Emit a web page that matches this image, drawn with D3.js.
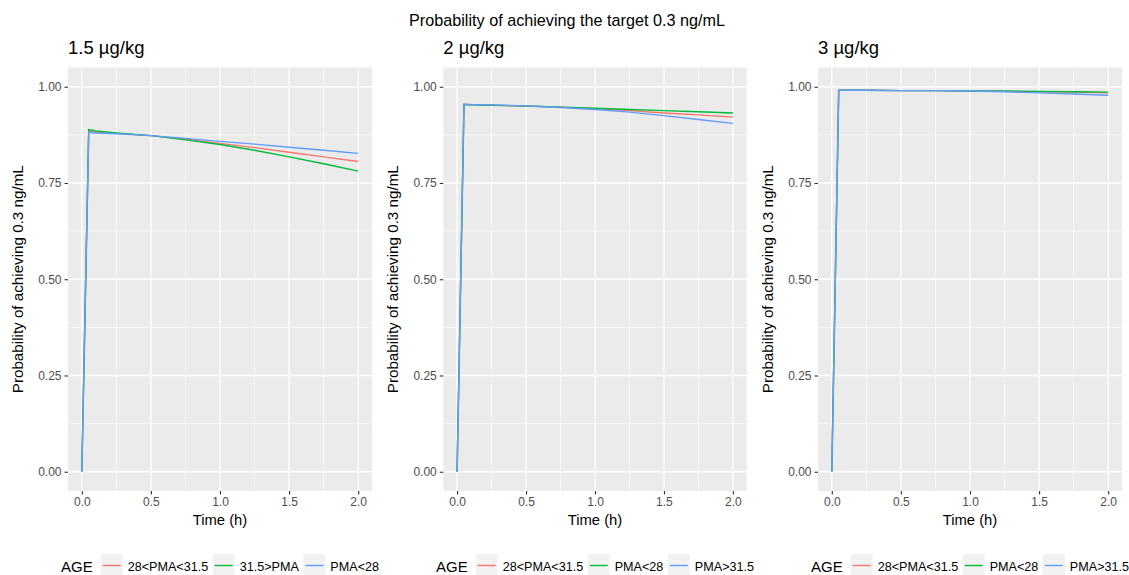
<!DOCTYPE html>
<html>
<head>
<meta charset="utf-8">
<script src="https://cdn.jsdelivr.net/npm/d3@7"></script>
<style>
  html, body { margin: 0; padding: 0; background: #ffffff; }
  svg { display: block; }
  text { font-family: "Liberation Sans", Arial, Helvetica, sans-serif; }
</style>
</head>
<body>
<svg id="chart" width="1129" height="575"></svg>
<script>
// ---------------- DATA ----------------
const mainTitle = "Probability of achieving the target 0.3 ng/mL";
const panelTitles = ["1.5 µg/kg", "2 µg/kg", "3 µg/kg"];
const yAxisTitle = "Probability of achieving 0.3 ng/mL";
const xAxisTitle = "Time (h)";
const legendTitle = "AGE";

const times = [0, 0.05, 0.1, 0.25, 0.5, 0.75, 1.0, 1.25, 1.5, 1.75, 2.0];

const xTicks = [0, 0.5, 1, 1.5, 2];
const xTickLabels = ["0.0", "0.5", "1.0", "1.5", "2.0"];
const yTicks = [0, 0.25, 0.5, 0.75, 1];
const yTickLabels = ["0.00", "0.25", "0.50", "0.75", "1.00"];

// Panel 1: 1.5 µg/kg
const p1Groups = ["28<PMA<31.5", "31.5>PMA", "PMA<28"];
const p1Red   = [0, 0.884, 0.882, 0.879, 0.873, 0.864, 0.853, 0.842, 0.830, 0.818, 0.806];
const p1Green = [0, 0.889, 0.885, 0.880, 0.873, 0.862, 0.850, 0.835, 0.818, 0.800, 0.781];
const p1Blue  = [0, 0.882, 0.880, 0.878, 0.873, 0.866, 0.858, 0.851, 0.843, 0.835, 0.827];

// Panel 2: 2 µg/kg
const p2Groups = ["28<PMA<31.5", "PMA<28", "PMA>31.5"];
const p2Red   = [0, 0.955, 0.953, 0.952, 0.950, 0.947, 0.943, 0.938, 0.932, 0.927, 0.921];
const p2Green = [0, 0.954, 0.953, 0.952, 0.950, 0.947, 0.944, 0.941, 0.938, 0.935, 0.932];
const p2Blue  = [0, 0.955, 0.954, 0.953, 0.950, 0.946, 0.941, 0.934, 0.925, 0.915, 0.905];

// Panel 3: 3 µg/kg
const p3Groups = ["28<PMA<31.5", "PMA<28", "PMA>31.5"];
const p3Red   = [0, 0.991, 0.991, 0.991, 0.990, 0.990, 0.989, 0.988, 0.987, 0.986, 0.984];
const p3Green = [0, 0.991, 0.991, 0.991, 0.990, 0.990, 0.989, 0.989, 0.988, 0.987, 0.986];
const p3Blue  = [0, 0.991, 0.991, 0.991, 0.990, 0.990, 0.989, 0.987, 0.984, 0.981, 0.978];

const colors = ["#F8766D", "#00BA38", "#619CFF"];

// ---------------- LAYOUT ----------------
const panels = [
  { title: panelTitles[0], groups: p1Groups, series: [p1Red, p1Green, p1Blue], left: 68,    right: 372 },
  { title: panelTitles[1], groups: p2Groups, series: [p2Red, p2Green, p2Blue], left: 443.3, right: 746.7 },
  { title: panelTitles[2], groups: p3Groups, series: [p3Red, p3Green, p3Blue], left: 818,   right: 1122 }
];
const plotTop = 67.5, plotBottom = 491;

const svg = d3.select("#chart");

svg.append("text")
  .attr("x", 567).attr("y", 26)
  .attr("text-anchor", "middle")
  .attr("font-size", 16.2)
  .attr("fill", "#000")
  .text(mainTitle);

panels.forEach(p => {
  const x = d3.scaleLinear().domain([-0.1, 2.1]).range([p.left, p.right]);
  const y = d3.scaleLinear().domain([-0.05, 1.05]).range([plotBottom, plotTop]);
  const g = svg.append("g");

  // panel background
  g.append("rect")
    .attr("x", p.left).attr("y", plotTop)
    .attr("width", p.right - p.left).attr("height", plotBottom - plotTop)
    .attr("fill", "#EBEBEB");

  // minor grid
  const xMinor = [0.25, 0.75, 1.25, 1.75];
  const yMinor = [0.125, 0.375, 0.625, 0.875];
  g.selectAll(".xminor").data(xMinor).join("line")
    .attr("x1", d => x(d)).attr("x2", d => x(d))
    .attr("y1", plotTop).attr("y2", plotBottom)
    .attr("stroke", "#FFFFFF").attr("stroke-width", 0.65);
  g.selectAll(".yminor").data(yMinor).join("line")
    .attr("y1", d => y(d)).attr("y2", d => y(d))
    .attr("x1", p.left).attr("x2", p.right)
    .attr("stroke", "#FFFFFF").attr("stroke-width", 0.65);
  // major grid
  g.selectAll(".xmajor").data(xTicks).join("line")
    .attr("x1", d => x(d)).attr("x2", d => x(d))
    .attr("y1", plotTop).attr("y2", plotBottom)
    .attr("stroke", "#FFFFFF").attr("stroke-width", 1.3);
  g.selectAll(".ymajor").data(yTicks).join("line")
    .attr("y1", d => y(d)).attr("y2", d => y(d))
    .attr("x1", p.left).attr("x2", p.right)
    .attr("stroke", "#FFFFFF").attr("stroke-width", 1.3);

  // axes
  const xAxis = d3.axisBottom(x).tickValues(xTicks)
    .tickFormat((d, i) => xTickLabels[i]).tickSize(3.5).tickPadding(3);
  const gx = g.append("g").attr("transform", `translate(0,${plotBottom})`).call(xAxis);
  gx.select(".domain").remove();
  gx.selectAll(".tick line").attr("stroke", "#333333").attr("stroke-width", 1.1);
  gx.selectAll(".tick text").attr("fill", "#4D4D4D").attr("font-size", 12)
    .attr("font-family", "Liberation Sans, Arial, sans-serif");

  const yAxis = d3.axisLeft(y).tickValues(yTicks)
    .tickFormat((d, i) => yTickLabels[i]).tickSize(3.5).tickPadding(3);
  const gy = g.append("g").attr("transform", `translate(${p.left},0)`).call(yAxis);
  gy.select(".domain").remove();
  gy.selectAll(".tick line").attr("stroke", "#333333").attr("stroke-width", 1.1);
  gy.selectAll(".tick text").attr("fill", "#4D4D4D").attr("font-size", 12)
    .attr("font-family", "Liberation Sans, Arial, sans-serif");

  // lines
  const line = d3.line().x((d, i) => x(times[i])).y(d => y(d));
  p.series.forEach((s, k) => {
    g.append("path").datum(s)
      .attr("d", line)
      .attr("fill", "none")
      .attr("stroke", colors[k])
      .attr("stroke-width", 1.4)
      .attr("stroke-linejoin", "round");
  });

  // panel title
  g.append("text")
    .attr("x", p.left).attr("y", 53.5)
    .attr("font-size", 18.5).attr("fill", "#000")
    .text(p.title);

  // axis titles
  const cx = (p.left + p.right) / 2;
  g.append("text")
    .attr("x", cx).attr("y", 525)
    .attr("text-anchor", "middle")
    .attr("font-size", 14.8).attr("fill", "#000")
    .text(xAxisTitle);
  g.append("text")
    .attr("transform", `translate(${p.left - 45},${(plotTop + plotBottom) / 2}) rotate(-90)`)
    .attr("text-anchor", "middle")
    .attr("font-size", 15.2).attr("fill", "#000")
    .text(yAxisTitle);

  // legend
  const lg = g.append("g");
  const titleT = lg.append("text")
    .attr("x", 0).attr("y", 571.5)
    .attr("font-size", 15).attr("fill", "#000")
    .text(legendTitle);
  let cur = titleT.node().getComputedTextLength() + 8;
  p.groups.forEach((name, k) => {
    lg.append("rect")
      .attr("x", cur).attr("y", 554)
      .attr("width", 22).attr("height", 22)
      .attr("fill", "#F2F2F2");
    lg.append("line")
      .attr("x1", cur + 2).attr("x2", cur + 20)
      .attr("y1", 565.5).attr("y2", 565.5)
      .attr("stroke", colors[k]).attr("stroke-width", 1.4);
    cur += 22 + 5;
    const t = lg.append("text")
      .attr("x", cur).attr("y", 570.5)
      .attr("font-size", 12.6).attr("fill", "#000")
      .text(name);
    cur += t.node().getComputedTextLength();
    if (k < p.groups.length - 1) cur += 4.5;
  });
  lg.attr("transform", `translate(${cx - cur / 2},0)`);
});
</script>
</body>
</html>
